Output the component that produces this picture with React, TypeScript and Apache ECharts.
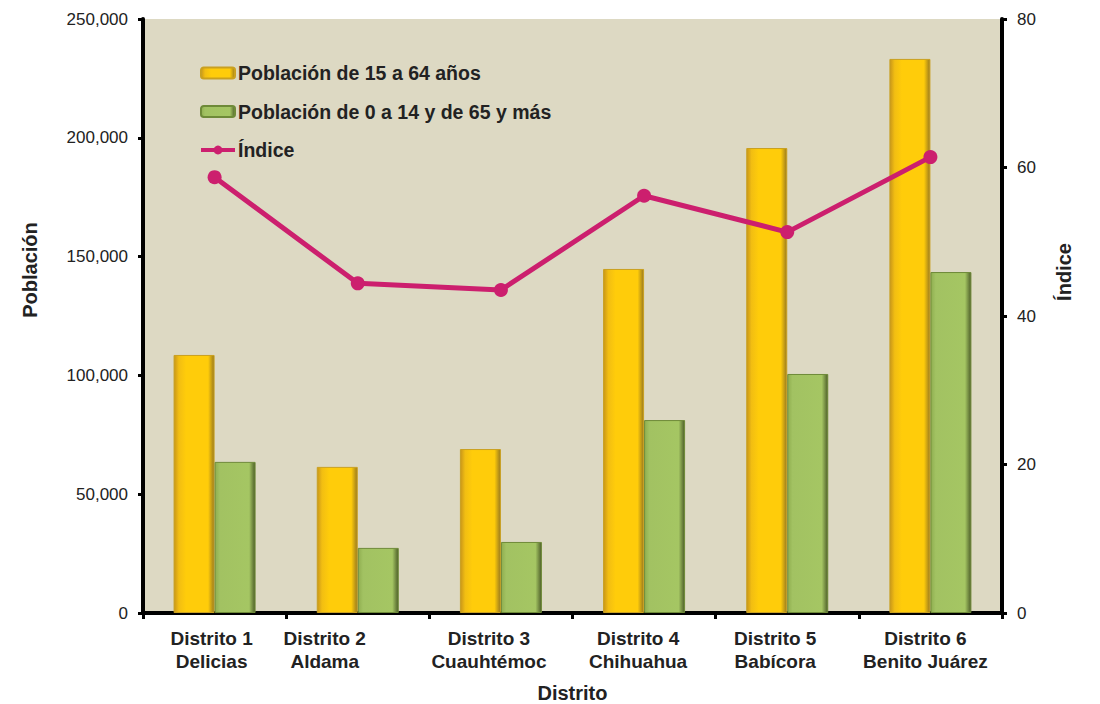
import React, { useEffect, useRef } from "react";
import * as echarts from "echarts";

const categories = [
  "Distrito 1\nDelicias",
  "Distrito 2\nAldama",
  "Distrito 3\nCuauhtémoc",
  "Distrito 4\nChihuahua",
  "Distrito 5\nBabícora",
  "Distrito 6\nBenito Juárez",
];
const pop15a64 = [108600, 61500, 69000, 144800, 195700, 233200];
const pop0a14y65 = [63600, 27400, 29900, 81200, 100600, 143500];
const indice = [58.7, 44.4, 43.5, 56.2, 51.3, 61.4];

// horizontal shift (px, to the left) of each category label, as in the original layout
const labelShift = [3, 33, 12, 6, 12, 5];

const FONT = "'Liberation Sans', Arial, sans-serif";
const TXT = "#222";

const yellowGrad = new echarts.graphic.LinearGradient(0, 0, 1, 0, [
  { offset: 0, color: "#C8961A" },
  { offset: 0.12, color: "#F2BE12" },
  { offset: 0.3, color: "#FFCC0A" },
  { offset: 0.85, color: "#FFCC0A" },
  { offset: 1, color: "#9A7A1E" },
]);
const greenGrad = new echarts.graphic.LinearGradient(0, 0, 1, 0, [
  { offset: 0, color: "#8FAE50" },
  { offset: 0.12, color: "#A2C262" },
  { offset: 0.85, color: "#A5C663" },
  { offset: 1, color: "#4E5F2A" },
]);

export default function App() {
  const ref = useRef<HTMLDivElement>(null);
  useEffect(() => {
    const chart = echarts.init(ref.current!, null, { renderer: "svg" });
    chart.setOption({
      animation: false,
      textStyle: { fontFamily: FONT },
      grid: {
        left: 143,
        right: 98,
        top: 19,
        bottom: 91,
        show: true,
        backgroundColor: "#DDD9C3",
        borderWidth: 0,
        containLabel: false,
        outerBoundsMode: "none",
      },
      graphic: [
        {
          type: "text",
          x: 30,
          y: 270,
          rotation: Math.PI / 2,
          style: {
            text: "Población",
            fontFamily: FONT,
            fontSize: 20,
            fontWeight: "bold",
            fill: TXT,
            align: "center",
            verticalAlign: "middle",
          },
        },
        {
          type: "text",
          x: 1064,
          y: 272,
          rotation: Math.PI / 2,
          style: {
            text: "Índice",
            fontFamily: FONT,
            fontSize: 20,
            fontWeight: "bold",
            fill: TXT,
            align: "center",
            verticalAlign: "middle",
          },
        },
      ],
      legend: {
        orient: "vertical",
        left: 194,
        top: 58,
        itemGap: 18.5,
        itemWidth: 34,
        itemHeight: 11,
        textStyle: { fontFamily: FONT, fontSize: 19.5, fontWeight: "bold", color: TXT, padding: [0, 0, 0, -2] },
        data: [
          { name: "Población de 15 a 64 años" },
          { name: "Población de 0 a 14 y de 65 y más" },
          { name: "Índice", lineStyle: { width: 4, color: "#CC1F6E" } },
        ],
      },
      xAxis: {
        type: "category",
        data: categories.map((c, i) => ({
          value: c,
          textStyle: { padding: [0, labelShift[i] * 2, 0, 0] },
        })),
        name: "Distrito",
        nameLocation: "middle",
        nameGap: 70,
        nameTextStyle: { fontFamily: FONT, fontSize: 20, fontWeight: "bold", color: TXT },
        axisLine: { lineStyle: { color: "#000", width: 4 } },
        axisTick: { show: true, length: 6, lineStyle: { color: "#000", width: 3 } },
        axisLabel: {
          interval: 0,
          hideOverlap: false,
          fontFamily: FONT,
          fontSize: 19,
          fontWeight: "bold",
          color: TXT,
          lineHeight: 23,
          margin: 14,
        },
      },
      yAxis: [
        {
          type: "value",
          min: 0,
          max: 250000,
          interval: 50000,
          axisLine: { show: true, lineStyle: { color: "#000", width: 4 } },
          axisTick: { show: true, length: 5, lineStyle: { color: "#000", width: 3 } },
          splitLine: { show: false },
          axisLabel: {
            fontFamily: FONT,
            fontSize: 17,
            color: TXT,
            margin: 15,
            formatter: (v: number) => v.toLocaleString("en-US"),
          },
        },
        {
          type: "value",
          min: 0,
          max: 80,
          interval: 20,
          position: "right",
          axisLine: { show: true, lineStyle: { color: "#000", width: 4 } },
          axisTick: { show: true, length: 5, lineStyle: { color: "#000", width: 3 } },
          splitLine: { show: false },
          axisLabel: { fontFamily: FONT, fontSize: 17, color: TXT, margin: 15 },
        },
      ],
      series: [
        {
          name: "Población de 15 a 64 años",
          type: "bar",
          data: pop15a64,
          barWidth: 41,
          barGap: "0%",
          itemStyle: { color: yellowGrad, borderColor: "#C9A020", borderWidth: 1 },
        },
        {
          name: "Población de 0 a 14 y de 65 y más",
          type: "bar",
          data: pop0a14y65,
          barWidth: 41,
          barGap: "0%",
          itemStyle: { color: greenGrad, borderColor: "#6E8A38", borderWidth: 1 },
        },
        {
          name: "Índice",
          type: "line",
          yAxisIndex: 1,
          data: indice,
          symbol: "circle",
          symbolSize: 14,
          lineStyle: { color: "#CC1F6E", width: 5 },
          itemStyle: { color: "#CC1F6E" },
          z: 5,
        },
      ],
    });
    return () => chart.dispose();
  }, []);
  return (
    <div
      ref={ref}
      style={{ position: "fixed", left: 0, top: 0, width: 1100, height: 704, background: "#fff" }}
    />
  );
}
